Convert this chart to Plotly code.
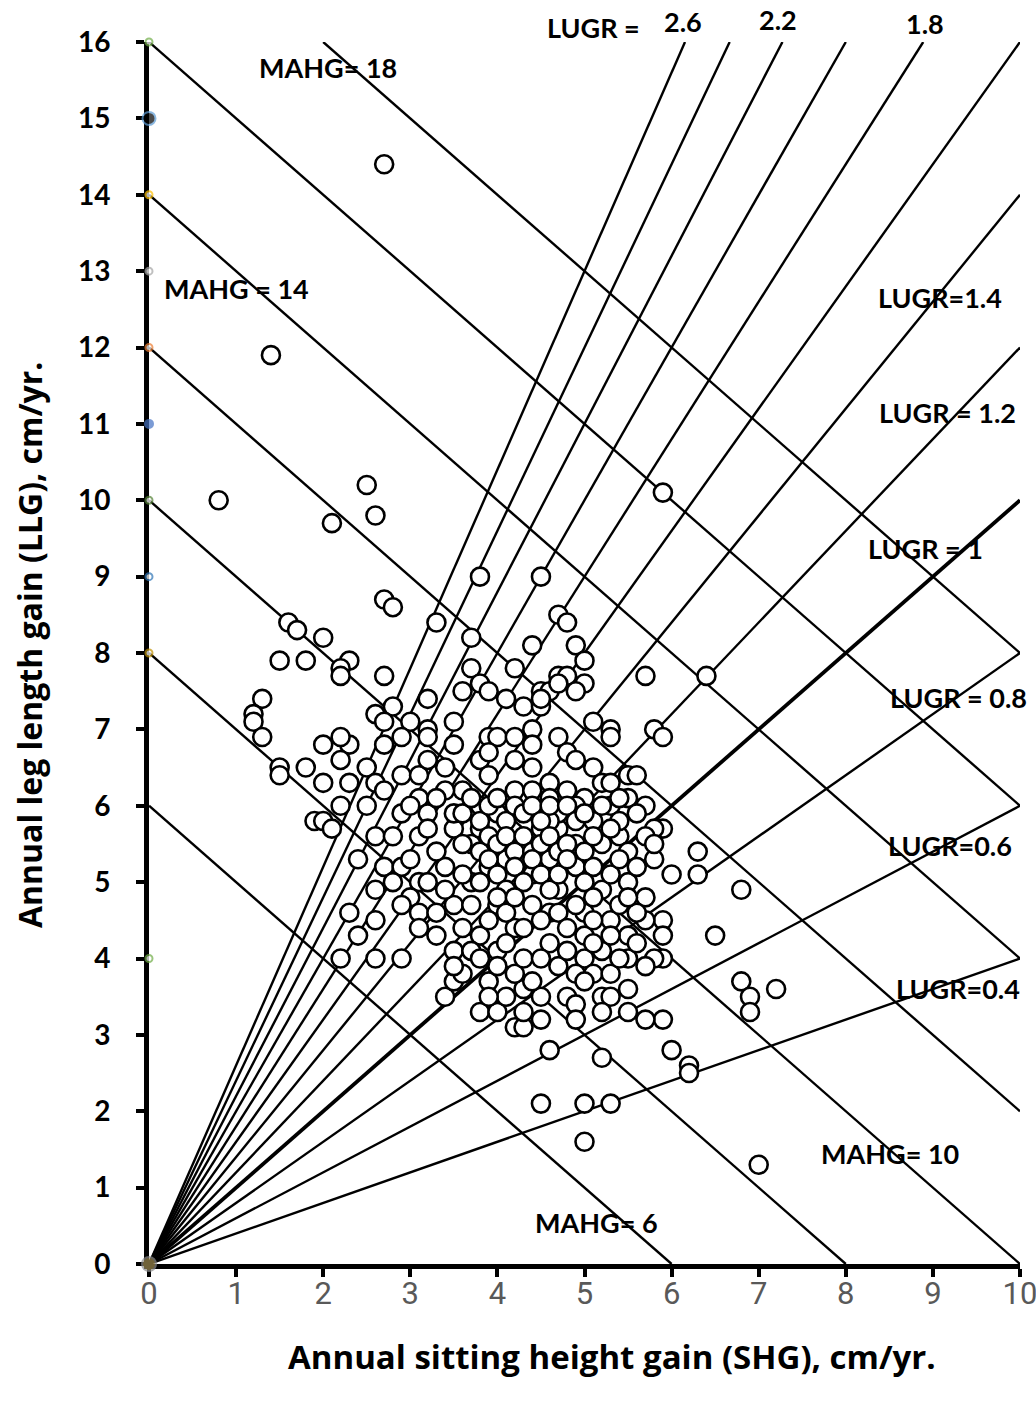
import plotly.graph_objects as go

# ---------------- data ----------------
lugr_values = [0.4, 0.6, 0.8, 1.0, 1.2, 1.4, 1.6, 1.8, 2.0, 2.2, 2.4, 2.6]
mahg_values = [6, 8, 10, 12, 14, 16, 18]

x_ticks = list(range(0, 11))
y_ticks = list(range(0, 17))

shg = [
    2.7, 1.4, 0.8, 2.5, 2.1, 2.6, 5.9, 3.8, 4.5, 2.7, 2.8, 3.3, 1.6, 1.7, 2.0, 3.7,
    1.5, 1.8, 2.3, 2.2, 2.2, 2.7, 1.3, 1.2, 1.2, 1.3, 1.8, 2.0, 2.3, 1.5, 1.5, 2.0,
    2.2, 2.2, 2.2, 1.9, 2.0, 2.1, 2.4, 2.3, 2.4, 2.2, 2.6, 2.9, 2.6, 2.6,
    6.4, 5.7, 5.8, 5.9, 5.7, 5.9, 6.0, 6.3, 6.3, 6.5, 6.8, 6.8, 6.9, 6.9, 7.2, 5.9,
    6.0, 6.2, 6.2, 5.2, 4.6, 4.5, 5.0, 5.3, 5.0, 7.0, 5.5, 5.7, 5.5, 3.4, 3.8, 4.2,
    4.3, 4.5,
    5.7, 5.9, 5.9, 5.9, 5.8, 5.7, 5.5, 5.5, 5.3, 5.2, 5.0, 4.8, 4.9, 5.2, 4.9, 5.1,
    4.6, 4.6, 5.0, 4.7, 5.2, 5.5, 4.9, 5.1, 4.6, 4.9, 5.2, 5.4, 5.5, 5.8, 4.7, 5.3,
    2.6, 2.8, 2.7, 2.9, 3.1, 3.0, 3.1, 3.3, 3.5, 3.5, 3.4, 3.5, 3.6, 3.7, 3.7, 3.8,
    3.7, 3.9, 4.0, 4.0, 3.9, 4.0, 4.2, 4.3, 4.5, 4.4, 4.1, 4.3, 4.5, 3.5, 3.8, 3.1,
    4.7, 4.4, 3.7, 4.2, 4.7, 3.6, 3.8, 3.9, 4.1, 4.3, 4.5, 4.5, 3.2, 2.8, 2.6, 2.7,
    3.0, 3.2, 3.5, 3.9, 4.0, 4.2, 4.4, 4.4, 3.5, 3.2, 2.9, 2.7, 2.5, 2.3, 2.6, 2.9,
    3.1, 3.4, 3.2, 3.8, 3.9, 4.2, 4.4, 3.9, 3.6, 3.4, 3.1, 2.7, 2.5, 2.9, 3.2, 3.5,
    3.8, 4.0, 4.2, 4.4, 4.6, 4.7, 4.6, 4.6,
    4.8, 4.9, 5.0, 4.8, 5.0, 4.7, 4.9, 5.1, 5.3, 5.3, 4.5, 4.8, 4.9, 5.1, 5.2, 5.3,
    5.5, 5.6, 4.8, 5.0, 5.5, 5.3, 4.9, 4.7, 5.1, 5.4, 5.8, 4.6,
    3.6, 3.7, 3.8, 3.9, 4.0, 4.1, 4.2, 4.3, 4.4, 4.5, 4.6, 4.8, 4.9, 5.0, 5.2, 5.4,
    3.6, 3.8, 3.9, 4.0, 4.1, 4.2, 4.3, 4.4, 4.5, 4.6, 4.7, 4.8, 5.0, 5.1, 5.3,
    3.6, 3.8, 3.9, 4.0, 4.1, 4.2, 4.3, 4.4, 4.5, 4.6, 4.7, 4.8, 5.0, 5.1, 5.3, 5.4,
    3.7, 3.9, 4.0, 4.1, 4.2, 4.3, 4.4, 4.5, 4.7, 4.8, 4.9, 5.0, 5.1, 5.3, 5.4,
    3.8, 4.0, 4.1, 4.2, 4.3, 4.4, 4.5, 4.7, 4.8, 5.0, 5.1, 5.3, 5.4,
    3.3, 3.2, 3.3, 3.4, 3.2, 3.3, 3.0, 3.0, 2.8, 2.9, 3.1,
    5.6, 5.6, 5.7, 5.6, 5.8, 5.5, 5.6, 5.7, 5.2, 4.9, 4.3, 4.1, 3.9, 3.6, 3.5,
]

llg = [
    14.4, 11.9, 10.0, 10.2, 9.7, 9.8, 10.1, 9.0, 9.0, 8.7, 8.6, 8.4, 8.4, 8.3, 8.2, 8.2,
    7.9, 7.9, 7.9, 7.8, 7.7, 7.7, 7.4, 7.2, 7.1, 6.9, 6.5, 6.8, 6.8, 6.5, 6.4, 6.3,
    6.9, 6.6, 6.0, 5.8, 5.8, 5.7, 5.3, 4.6, 4.3, 4.0, 4.0, 4.0, 4.5, 4.9,
    7.7, 7.7, 7.0, 6.9, 6.0, 5.7, 5.1, 5.4, 5.1, 4.3, 4.9, 3.7, 3.5, 3.3, 3.6, 3.2,
    2.8, 2.6, 2.5, 2.7, 2.8, 2.1, 2.1, 2.1, 1.6, 1.3, 3.3, 3.2, 3.6, 3.5, 3.3, 3.1,
    3.1, 3.2,
    4.8, 4.5, 4.3, 4.0, 4.0, 4.5, 4.3, 4.0, 4.5, 4.1, 4.0, 3.5, 3.4, 3.5, 3.8, 3.8,
    4.2, 4.6, 4.6, 4.9, 4.9, 5.0, 5.2, 5.2, 5.3, 5.5, 5.5, 5.6, 5.4, 5.3, 5.7, 3.5,
    5.6, 5.6, 5.2, 5.2, 5.0, 4.8, 4.6, 4.3, 4.1, 3.7, 5.2, 4.7, 4.4, 5.5, 5.0, 4.3,
    4.1, 5.2, 4.7, 4.1, 3.7, 3.3, 4.4, 3.6, 3.5, 5.1, 5.3, 5.5, 5.7, 5.7, 5.7, 5.6,
    8.5, 8.1, 7.8, 7.8, 7.7, 7.5, 7.6, 7.5, 7.4, 7.3, 7.3, 7.5, 7.4, 7.3, 7.2, 7.1,
    7.1, 7.0, 7.1, 6.9, 6.9, 6.9, 7.0, 6.8, 6.8, 6.9, 6.9, 6.8, 6.5, 6.3, 6.3, 6.4,
    6.4, 6.5, 6.6, 6.6, 6.7, 6.6, 6.5, 6.4, 6.2, 6.2, 6.1, 6.2, 6.0, 5.9, 5.9, 5.9,
    6.0, 5.9, 6.2, 6.2, 6.3, 6.9, 7.5, 6.1,
    8.4, 8.1, 7.9, 7.7, 7.6, 7.6, 7.5, 7.1, 7.0, 6.9, 7.4, 6.7, 6.6, 6.5, 6.3, 6.3,
    6.4, 6.4, 6.2, 6.1, 6.1, 6.0, 6.0, 5.9, 5.8, 5.8, 5.7, 5.8,
    5.9, 6.1, 5.8, 6.0, 6.1, 5.8, 6.0, 5.9, 6.0, 5.8, 6.0, 6.0, 5.8, 5.9, 6.0, 6.1,
    5.5, 5.4, 5.6, 5.5, 5.6, 5.4, 5.6, 5.4, 5.5, 5.6, 5.4, 5.5, 5.4, 5.6, 5.7,
    5.1, 5.0, 5.3, 5.1, 4.9, 5.2, 5.0, 5.3, 5.1, 4.9, 5.1, 5.3, 5.0, 4.8, 5.1, 5.3,
    4.7, 4.5, 4.8, 4.6, 4.8, 4.4, 4.7, 4.5, 4.6, 4.4, 4.7, 4.3, 4.5, 4.3, 4.7,
    4.0, 3.9, 4.2, 3.8, 4.0, 3.7, 4.0, 3.9, 4.1, 3.7, 4.2, 3.8, 4.0,
    5.4, 5.0, 4.6, 4.9, 5.7, 6.1, 5.3, 6.0, 5.0, 4.7, 4.4,
    5.2, 4.6, 5.6, 5.9, 5.5, 4.8, 4.2, 3.9, 3.3, 3.2, 3.3, 3.5, 3.5, 3.8, 3.9,
]

# label texts and their positions (data coords)
label_texts = ["LUGR =", "2.6", "2.2", "1.8", "MAHG= 18", "MAHG = 14", "LUGR=1.4",
               "LUGR = 1.2", "LUGR = 1", "LUGR = 0.8", "LUGR=0.6", "LUGR=0.4",
               "MAHG= 10", "MAHG= 6"]
label_x = [5.10, 6.13, 7.22, 8.91, 2.06, 1.0, 9.08, 9.17, 8.91, 9.29, 9.2, 9.29, 8.51, 5.14]
label_y = [16.19, 16.27, 16.29, 16.24, 15.67, 12.77, 12.66, 11.15, 9.37, 7.42, 5.48, 3.61, 1.45, 0.54]

# small coloured markers sitting on the y axis in the source image
axis_dot_y = [16, 15, 14, 13, 12, 11, 10, 9, 8, 4, 0]
axis_dot_line = ["#70ad47", "#5b9bd5", "#ffc000", "#a5a5a5", "#ed7d31", "#4472c4",
                 "#548235", "#2e75b6", "#bf9000", "#70ad47", "#8c8c8c"]
axis_dot_fill = ["white", "black", "white", "white", "white", "#4472c4",
                 "white", "white", "white", "white", "#a08c50"]
axis_dot_size = [7, 13, 7, 7, 7, 8, 7, 7, 7, 7, 14]

XMAX, YMAX = 10, 16

fig = go.Figure()

# MAHG iso-lines (x + y = c), clipped to the plotting box
mx, my = [], []
for c in mahg_values:
    x0 = max(0, c - YMAX)
    x1 = min(XMAX, c)
    mx += [x0, x1, None]
    my += [c - x0, c - x1, None]
fig.add_trace(go.Scatter(x=mx, y=my, mode="lines", line=dict(color="black", width=2.4),
                         hoverinfo="skip", showlegend=False))

# LUGR rays from origin (y = s * x)
rx, ry = [], []
for s in lugr_values:
    if s == 1.0:
        continue
    xe = min(XMAX, YMAX / s)
    rx += [0, xe, None]
    ry += [0, s * xe, None]
fig.add_trace(go.Scatter(x=rx, y=ry, mode="lines", line=dict(color="black", width=2.4),
                         hoverinfo="skip", showlegend=False))
xe1 = min(XMAX, YMAX / 1.0)
fig.add_trace(go.Scatter(x=[0, xe1], y=[0, 1.0 * xe1], mode="lines",
                         line=dict(color="black", width=3.8),
                         hoverinfo="skip", showlegend=False))

# data points
fig.add_trace(go.Scatter(x=shg, y=llg, mode="markers",
                         marker=dict(symbol="circle", size=18, color="white",
                                     line=dict(color="black", width=2.6)),
                         showlegend=False, cliponaxis=False))

# coloured dots on the axis
fig.add_trace(go.Scatter(x=[0] * len(axis_dot_y), y=axis_dot_y, mode="markers",
                         marker=dict(size=axis_dot_size, color=axis_dot_fill,
                                     line=dict(color=axis_dot_line, width=2)),
                         showlegend=False, cliponaxis=False, hoverinfo="skip"))

ann_font = dict(family="Lato", size=27, color="black", weight="bold")
for t, xx, yy in zip(label_texts, label_x, label_y):
    fig.add_annotation(x=xx / XMAX, y=yy / YMAX, xref="paper", yref="paper", text=t,
                       showarrow=False, font=ann_font, xanchor="center", yanchor="middle")

fig.add_annotation(x=0.532, y=-0.076, xref="paper", yref="paper",
                   text="Annual sitting height gain (SHG), cm/yr.", showarrow=False,
                   font=dict(family="Open Sans", size=33, color="black", weight="bold"),
                   xanchor="center", yanchor="middle")
fig.add_annotation(x=-0.137, y=0.507, xref="paper", yref="paper",
                   text="Annual leg length gain (LLG), cm/yr.", showarrow=False,
                   textangle=-90,
                   font=dict(family="Open Sans", size=32, color="black", weight="bold"),
                   xanchor="center", yanchor="middle")

fig.update_xaxes(range=[0, XMAX], tickvals=x_ticks, ticktext=[str(v) for v in x_ticks],
                 showgrid=False, zeroline=False, showline=True, linecolor="black",
                 linewidth=5, ticks="outside", ticklen=8, tickwidth=4, tickcolor="black",
                 ticklabelstandoff=-10, ticklabeloverflow="allow", automargin=False,
                 layer="below traces",
                 tickfont=dict(family="Roboto", size=31, color="#595959"))
fig.update_yaxes(range=[0, YMAX], tickvals=y_ticks, ticktext=[str(v) for v in y_ticks],
                 showgrid=False, zeroline=False, showline=True, linecolor="black",
                 linewidth=5, ticks="outside", ticklen=8, tickwidth=4, tickcolor="black",
                 ticklabelstandoff=20, automargin=False, layer="below traces",
                 tickfont=dict(family="Lato", size=28, color="black", weight="bold"))

fig.update_layout(width=1036, height=1403,
                  margin=dict(l=149, r=16, t=42, b=139, autoexpand=False),
                  plot_bgcolor="white", paper_bgcolor="white",
                  showlegend=False)

fig.write_html("out.html", config={"displayModeBar": False})

# remove the default page margin so the figure fills the window exactly
with open("out.html", "r", encoding="utf-8") as f:
    html = f.read()
html = html.replace("<head>", "<head><style>html,body{margin:0;padding:0;overflow:hidden;}</style>", 1)
with open("out.html", "w", encoding="utf-8") as f:
    f.write(html)
